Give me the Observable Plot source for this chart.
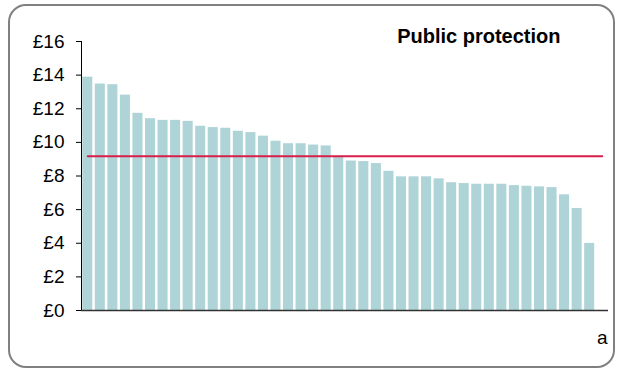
<!DOCTYPE html>
<html>
<head>
<meta charset="utf-8">
<script src="https://cdn.jsdelivr.net/npm/d3@7"></script>
<script src="https://cdn.jsdelivr.net/npm/@observablehq/plot@0.6"></script>
<style>
  html, body { margin: 0; padding: 0; background: #fff; }
  #wrap { position: relative; width: 621px; height: 372px; overflow: hidden; }
  #border { position: absolute; left: 8px; top: 4px; width: 607px; height: 364px; box-sizing: border-box;
            border: 2px solid #808080; border-radius: 18px; }
  #chart { position: absolute; left: 0; top: 0; }
</style>
</head>
<body>
<div id="wrap"><div id="border"></div><div id="chart"></div></div>
<script>
const categories = ["1","2","3","4","5","6","7","8","9","10","11","12","13","14","15","16","17","18","19","20",
  "21","22","23","24","25","26","27","28","29","30","31","32","33","34","35","36","37","38","39","40","41","a"];
const values = [13.88, 13.47, 13.43, 12.81, 11.73, 11.41, 11.31, 11.31, 11.25, 10.96,
  10.88, 10.84, 10.66, 10.58, 10.37, 10.07, 9.92, 9.92, 9.84, 9.79,
  9.15, 8.89, 8.86, 8.74, 8.28, 7.95, 7.95, 7.95, 7.83, 7.60,
  7.55, 7.51, 7.51, 7.51, 7.43, 7.39, 7.35, 7.31, 6.88, 6.07, 3.99];
const average = 9.17;
const yTicks = [0, 2, 4, 6, 8, 10, 12, 14, 16];
const title = "Public protection";

const bars = values.map((v, i) => ({name: categories[i], value: v}));
const avgLine = categories.map(c => ({name: c, value: average}));

const chart = Plot.plot({
  width: 621,
  height: 372,
  marginLeft: 81,
  marginRight: 13,
  marginTop: 41,
  marginBottom: 62,
  style: {fontFamily: "'Liberation Sans', Arial, sans-serif", fontSize: "19px", color: "#000", background: "transparent"},
  x: {domain: categories, paddingInner: 0.2, paddingOuter: 0.1, round: false, label: null,
      tickSize: 0, tickPadding: 20, tickFormat: d => d === "a" ? "a" : ""},
  y: {domain: [0, 16], label: null, ticks: yTicks, tickFormat: d => "£" + d, tickSize: 5, tickPadding: 12, line: true},
  marks: [
    Plot.barY(bars, {x: "name", y: "value", fill: "#aed4d7"}),
    Plot.lineY(avgLine, {x: "name", y: "value", stroke: "#d81e4a", strokeWidth: 2}),
    Plot.ruleY([0], {stroke: "#333", strokeWidth: 1.5}),
    Plot.text([title], {frameAnchor: "top-right", textAnchor: "end", lineAnchor: "middle", dx: -48, dy: -5,
      fontWeight: "bold", fontSize: 20, letterSpacing: "0.2px", fill: "#000"})
  ]
});
document.getElementById("chart").appendChild(chart);
</script>
</body>
</html>
